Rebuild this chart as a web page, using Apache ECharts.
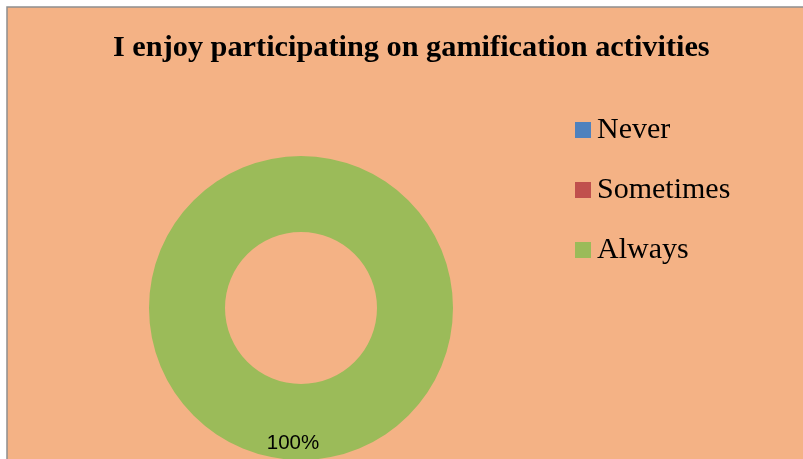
<!DOCTYPE html>
<html>
<head>
<meta charset="utf-8">
<script src="https://cdn.jsdelivr.net/npm/echarts@6/dist/echarts.min.js"></script>
<style>
html,body{margin:0;padding:0;background:#fff;}
#main{width:803px;height:459px;}
</style>
</head>
<body>
<div id="main"></div>
<script>
const titleText = 'I enjoy participating on gamification activities';
const categories = ['Never', 'Sometimes', 'Always'];
const values = [0, 0, 100];
const colors = ['#4F81BD', '#C0504D', '#9BBB59'];

const chart = echarts.init(document.getElementById('main'));
const total = values.reduce((a, b) => a + b, 0);
chart.setOption({
  backgroundColor: '#ffffff',
  animation: false,
  graphic: [{
    type: 'rect',
    z: -10,
    shape: { x: 7, y: 7, width: 820, height: 480 },
    style: { fill: '#F4B285', stroke: '#8f8f8f', lineWidth: 1.5 }
  }],
  title: {
    text: titleText,
    left: 113,
    top: 33,
    padding: 0,
    textStyle: { fontFamily: 'Liberation Serif', fontWeight: 'bold', fontSize: 30.3, color: '#000' }
  },
  legend: {
    orient: 'vertical',
    left: 575,
    top: 115,
    padding: 0,
    itemWidth: 16,
    itemHeight: 16,
    itemGap: 30,
    icon: 'rect',
    data: categories,
    textStyle: { fontFamily: 'Liberation Serif', fontSize: 30, color: '#000', lineHeight: 30, padding: [0, 0, 0, 1] }
  },
  series: [{
    type: 'pie',
    center: [301, 308],
    radius: [76, 152],
    startAngle: 90,
    clockwise: true,
    silent: true,
    labelLine: { show: false },
    itemStyle: { borderWidth: 0 },
    data: categories.map((c, i) => ({
      name: c,
      value: values[i],
      itemStyle: { color: colors[i] },
      label: values[i] > 0 ? {
        show: true,
        position: 'inside',
        offset: [-8, 18],
        formatter: () => Math.round(values[i] / total * 100) + '%',
        fontFamily: 'Liberation Sans',
        fontSize: 20.5,
        color: '#000'
      } : { show: false }
    }))
  }]
});
</script>
</body>
</html>
